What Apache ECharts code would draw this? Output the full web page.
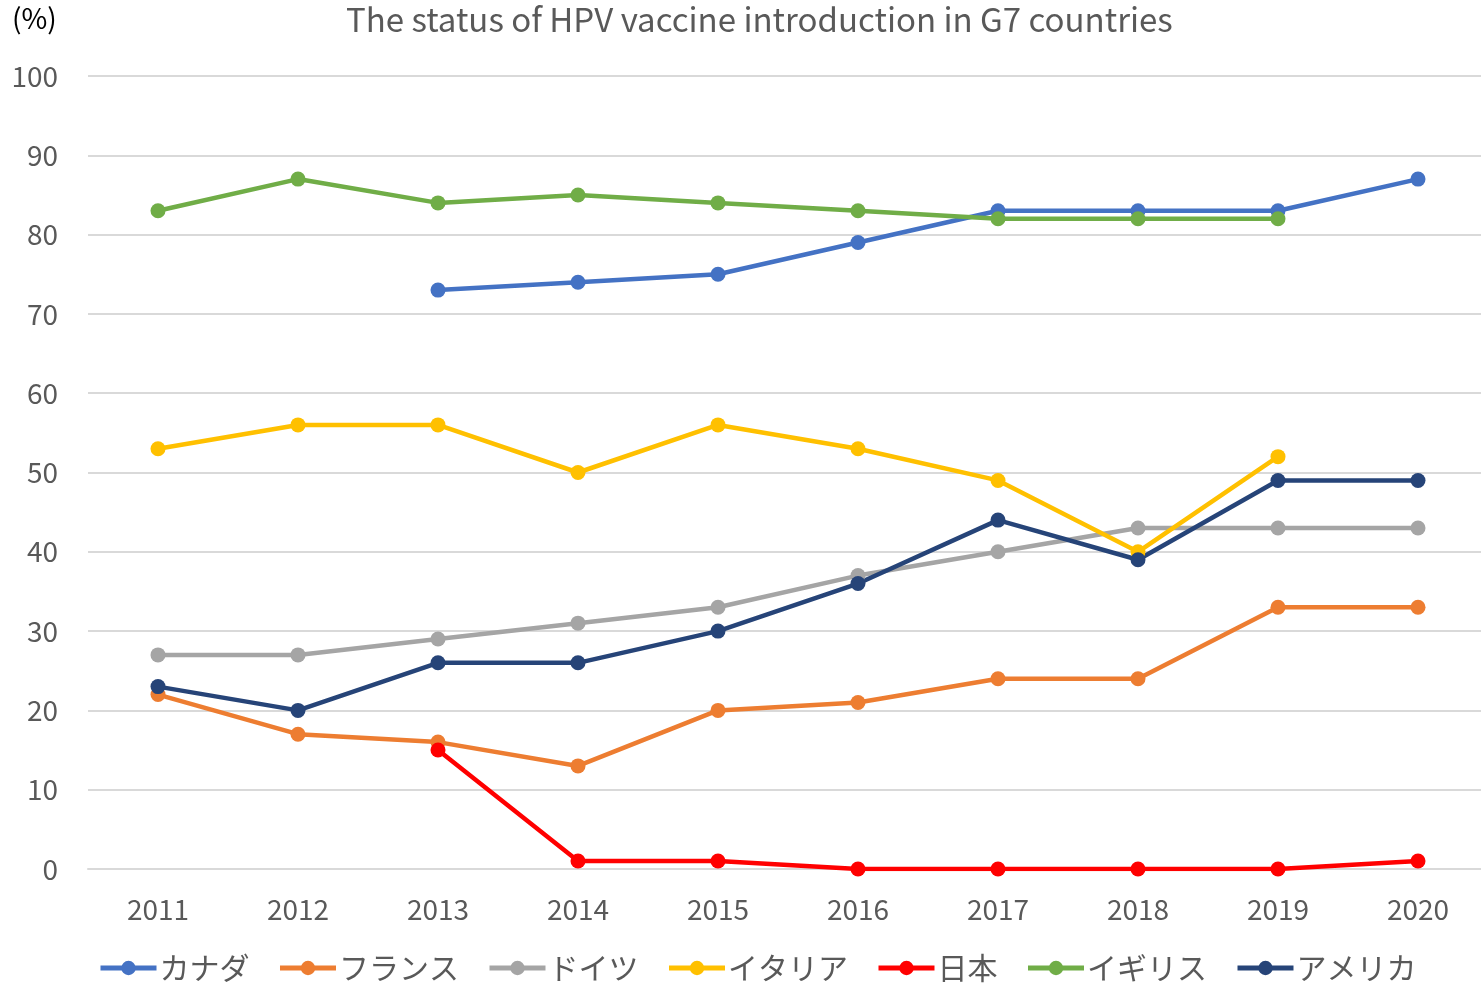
<!DOCTYPE html>
<html>
<head>
<meta charset="utf-8">
<script src="https://cdn.jsdelivr.net/npm/echarts@6/dist/echarts.min.js"></script>
<style>
  html, body { margin: 0; padding: 0; background: #fff; overflow: hidden; }
  #chart { width: 1490px; height: 986px; }
</style>
</head>
<body>
<div id="chart"></div>
<script>
const years = ['2011', '2012', '2013', '2014', '2015', '2016', '2017', '2018', '2019', '2020']
const yTicks = [0, 10, 20, 30, 40, 50, 60, 70, 80, 90, 100]

const canada = [null, null, 73, 74, 75, 79, 83, 83, 83, 87]
const france = [22, 17, 16, 13, 20, 21, 24, 24, 33, 33]
const germany = [27, 27, 29, 31, 33, 37, 40, 43, 43, 43]
const italy = [53, 56, 56, 50, 56, 53, 49, 40, 52, null]
const japan = [null, null, 15, 1, 1, 0, 0, 0, 0, 1]
const uk = [83, 87, 84, 85, 84, 83, 82, 82, 82, null]
const usa = [23, 20, 26, 26, 30, 36, 44, 39, 49, 49]

const seriesList = [
  { name: 'カナダ', data: canada, color: '#4472C4' },
  { name: 'フランス', data: france, color: '#ED7D31' },
  { name: 'ドイツ', data: germany, color: '#A5A5A5' },
  { name: 'イタリア', data: italy, color: '#FFC000' },
  { name: '日本', data: japan, color: '#FF0000' },
  { name: 'イギリス', data: uk, color: '#70AD47' },
  { name: 'アメリカ', data: usa, color: '#264478' },
]

const font = '"Noto Sans CJK JP", "Noto Sans", sans-serif'
const chart = echarts.init(document.getElementById('chart'))

chart.setOption({
  backgroundColor: '#fff',
  animation: false,
  title: {
    text: 'The status of HPV vaccine introduction in G7 countries',
    left: 341,
    top: -2,
    textStyle: { color: '#595959', fontSize: 33, fontWeight: 'normal', fontFamily: font },
  },
  graphic: [{
    type: 'text',
    left: 12,
    top: 4,
    style: { text: '(%)', fill: '#000', fontSize: 28, fontFamily: font },
  }],
  legend: {
    bottom: -2,
    left: 93,
    width: 1380,
    itemWidth: 56,
    itemHeight: 18,
    itemGap: 28,
    textStyle: { color: '#595959', fontSize: 30, fontFamily: font, padding: [0, 0, 0, -2] },
    lineStyle: { width: 5 },
    data: seriesList.map(s => s.name),
  },
  grid: { left: 88, top: 76, width: 1400, height: 793, containLabel: false },
  xAxis: {
    type: 'category',
    data: years,
    boundaryGap: true,
    axisLine: { show: true, lineStyle: { color: '#d9d9d9', width: 2 } },
    axisTick: { show: false },
    axisLabel: { color: '#595959', fontSize: 28, fontFamily: font, margin: 26 },
  },
  yAxis: {
    type: 'value',
    min: yTicks[0],
    max: yTicks[yTicks.length - 1],
    interval: 10,
    axisLine: { show: false },
    axisTick: { show: false },
    axisLabel: { color: '#595959', fontSize: 28, fontFamily: font, margin: 30 },
    splitLine: { lineStyle: { color: '#d9d9d9', width: 2 } },
  },
  series: seriesList.map(s => ({
    type: 'line',
    name: s.name,
    data: s.data,
    symbol: 'circle',
    symbolSize: 15,
    connectNulls: false,
    lineStyle: { color: s.color, width: 4.5 },
    itemStyle: { color: s.color },
  })),
})
</script>
</body>
</html>
